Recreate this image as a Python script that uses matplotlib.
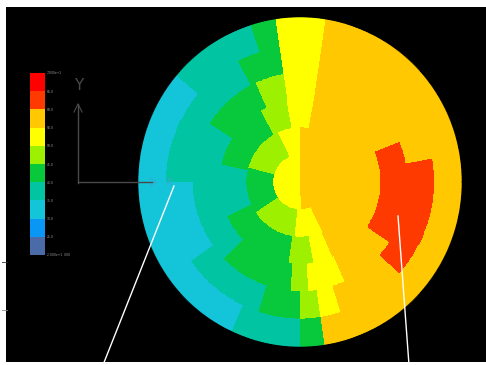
import numpy as np
import matplotlib
matplotlib.use("Agg")
import matplotlib.pyplot as plt
from matplotlib.cm import ScalarMappable
from matplotlib.colors import ListedColormap, BoundaryNorm

W, H = 486, 365

# contour bands, lowest first
band_colors = ["#4a6aa8", "#0a96f5", "#14c4d8", "#00c4a2", "#08c83c",
               "#9cf000", "#ffff00", "#ffc800", "#ff3a00", "#ff0000"]
band_labels = ["2.000e+1  000", "25.0", "30.0", "35.0", "40.0", "45.0",
               "50.0", "55.0", "60.0", "65.0", "7.000e+1"]

# ring edges of the disk mesh (px)
ring_radii = [0, 27, 54, 81, 108, 135, 163]

# band of each ring, inner ring first: (start deg, end deg, band index)
ring0_bands = [(0, 90, 7), (90, 275, 6), (275, 360, 7)]
ring1_bands = [(0, 90, 7), (90, 115, 6), (115, 165, 5), (165, 215, 4),
               (215, 265, 5), (265, 295, 6), (295, 360, 7)]
ring2_bands = [(0, 81, 7), (81, 100, 6), (100, 120, 5), (120, 168, 4),
               (168, 205, 3), (205, 262, 4), (262, 280, 5), (280, 294, 6),
               (294, 360, 7)]
ring3_bands = [(0, 22, 8), (22, 81, 7), (81, 99, 6), (99, 115, 5),
               (115, 148, 4), (148, 225, 3), (225, 265, 4), (265, 275, 5),
               (275, 295, 6), (295, 327, 7), (327, 360, 8)]
ring4_bands = [(0, 10, 8), (10, 81, 7), (81, 99, 6), (99, 118, 4),
               (118, 180, 3), (180, 216, 2), (216, 252, 3), (252, 270, 4),
               (270, 279, 5), (279, 288, 6), (288, 318, 7), (318, 360, 8)]
ring5_bands = [(0, 81, 7), (81, 99, 6), (99, 108, 4), (108, 140, 3),
               (140, 245, 2), (245, 270, 3), (270, 279, 4), (279, 360, 7)]
ring_bands = [ring0_bands, ring1_bands, ring2_bands,
              ring3_bands, ring4_bands, ring5_bands]

# band value per ring and per degree of arc
field = np.zeros((len(ring_bands), 360))
for i, bands in enumerate(ring_bands):
    for a0, a1, b in bands:
        field[i, a0:a1] = b

cmap = ListedColormap(band_colors)
norm = BoundaryNorm(np.arange(11), 10)

fig = plt.figure(figsize=(W / 100, H / 100), dpi=100, facecolor="white")

# black viewport
panel = fig.add_axes([6 / W, 3 / H, 480 / W, 355 / H])
panel.set_facecolor("black")
panel.set_xticks([])
panel.set_yticks([])
for s in panel.spines.values():
    s.set_visible(False)

# the disk, centre (300, 182) px
cx, cy, rx, ry = 300, 182, 162, 165
disk = fig.add_axes([(cx - rx) / W, (H - cy - ry) / H, 2 * rx / W, 2 * ry / H],
                    projection="polar")
disk.set_aspect("auto")
disk.set_theta_zero_location("E")
theta = np.radians(np.arange(361))
disk.pcolormesh(theta, ring_radii, field + 0.5, cmap=cmap, norm=norm,
                shading="flat", antialiased=False, edgecolors="none")
# soften the rim
rim = np.radians(np.linspace(0, 360, 721))
disk.plot(rim, np.full_like(rim, ring_radii[-1] + 0.4), color="black",
          lw=1.0, alpha=0.8, clip_on=False)
disk.set_ylim(0, ring_radii[-1])
disk.set_axis_off()

# legend bar
cax = fig.add_axes([30 / W, (H - 255) / H, 15 / W, 182 / H])
cb = fig.colorbar(ScalarMappable(norm=norm, cmap=cmap), cax=cax,
                  ticks=np.arange(11))
cb.ax.set_yticklabels(band_labels)
cb.ax.tick_params(length=0, labelsize=2.2, colors="#a0a0a0", pad=1.5)
cb.outline.set_visible(False)

# overlay in pixel coordinates
ov = fig.add_axes([0, 0, 1, 1])
ov.set_xlim(0, W)
ov.set_ylim(H, 0)
ov.set_axis_off()

# coordinate triad
tri = "#4a4a4a"
ov.plot([78, 78], [183, 104], color=tri, lw=1.0)
ov.plot([74, 78, 82], [112, 104, 112], color=tri, lw=0.8)
ov.plot([78, 152], [182, 182], color=tri, lw=1.0)
ov.text(79, 86, "Y", color=tri, fontsize=11, ha="center", va="center")
ov.plot([150, 156, 150], [178, 182, 186], color="#3aa6d6", lw=0.8)
ov.text(169, 182, "X", color="#3aa6d6", fontsize=7, ha="center", va="center")

# leader lines
ov.plot([103, 174], [365, 186], color="white", lw=1.0)
ov.plot([409, 398], [365, 216], color="white", lw=1.0)

# small marks on the left border
ov.plot([2, 7], [262, 262], color="#333333", lw=0.6)
ov.plot([2, 7], [310, 310], color="#888888", lw=0.6)

fig.savefig("out.png", dpi=100, facecolor="white")
